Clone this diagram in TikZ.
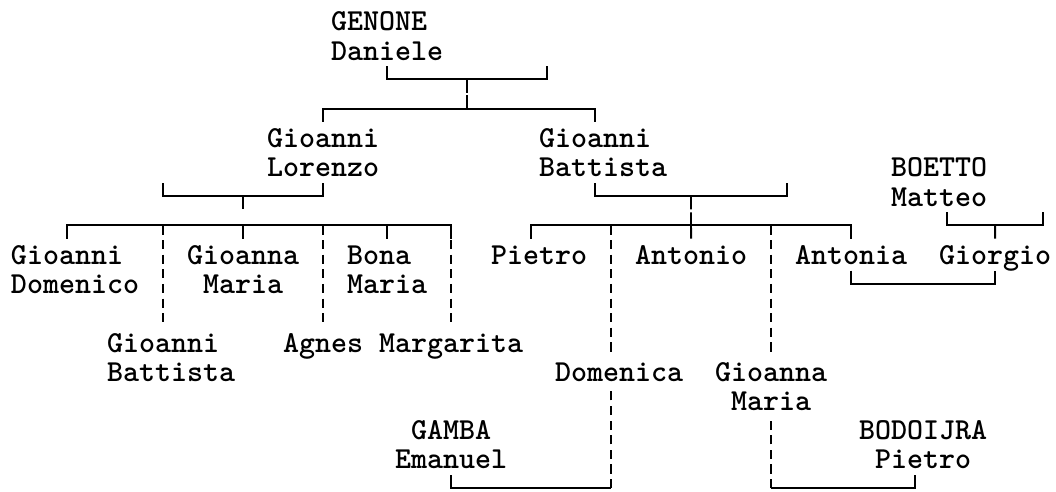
\documentclass[tikz,border=0pt]{standalone}
\newcommand{\rs}{\rule{0pt}{16pt}}
\newcommand{\ind}{\phantom{x}}
\begin{document}
\begin{tikzpicture}[
  x=0.4cm, y=-0.73cm,
  line width=1.4pt,
  nm/.style={anchor=north west, inner sep=0pt, outer sep=0pt, align=left, yshift=9pt,
    font=\fontsize{21.68}{20.77}\selectfont\ttfamily\bfseries},
  broken/.style={dash pattern=on 6.5pt off 3.9pt}
]
\useasboundingbox (-0.6875,-0.719) rectangle (65.3125,16.13);

% ---- people: x = column, y = row ----
\node[nm] (daniele)   at (20,0)  {\rs GENONE\\Daniele};
\node[nm] (lorenzo)   at (16,4)  {\rs Gioanni\\Lorenzo};
\node[nm] (gbatt)     at (33,4)  {\rs Gioanni\\Battista};
\node[nm] (boetto)    at (55,5)  {\rs BOETTO\\Matteo};
\node[nm] (gdom)      at (0,8)   {\rs Gioanni\\Domenico};
\node[nm] (gmaria)    at (11,8)  {\rs Gioanna\\\ind Maria};
\node[nm] (bona)      at (21,8)  {\rs Bona\\Maria};
\node[nm] (pietro)    at (30,8)  {\rs Pietro};
\node[nm] (antonio)   at (39,8)  {\rs Antonio};
\node[nm] (antonia)   at (49,8)  {\rs Antonia};
\node[nm] (giorgio)   at (58,8)  {\rs Giorgio};
\node[nm] (gbatt2)    at (6,11)  {\rs Gioanni\\Battista};
\node[nm] (agnes)     at (17,11) {\rs Agnes};
\node[nm] (margarita) at (23,11) {\rs Margarita};
\node[nm] (domenica)  at (34,12) {\rs Domenica};
\node[nm] (gmaria2)   at (44,12) {\rs Gioanna\\\ind Maria};
\node[nm] (gamba)     at (24,14) {\rs\ind GAMBA\\Emanuel};
\node[nm] (bodoijra)  at (53,14) {\rs BODOIJRA\\\ind Pietro};

% ---- GENONE Daniele ----
\draw (daniele.south |- 0,1.55) |- (28.5,2) -| (33.5,1.55);
\draw (28.5,2) -- (28.5,2.45) (28.5,2.55) -- (28.5,3);
\draw (lorenzo.north |- 0,3.45) |- (28.5,3) -| (36.5,3.45);

% ---- Gioanni Lorenzo ----
\draw (9.5,5.55) |- (14.5,6) -| (lorenzo.south |- 0,5.55);
\draw (14.5,6) -- (14.5,6.45);
\draw ([xshift=-2mm]gdom.north |- 0,7.45) |- (14.5,7) -| (margarita.north |- 0,7.45);
\foreach \n in {gmaria, bona}
  \draw (\n.north |- 0,7) -- (\n.north |- 0,7.45);
\draw[broken] (9.5,7) -- (9.5,10.45);
\draw[broken] (agnes.north |- 0,7) -- (agnes.north |- 0,10.45);
\draw[broken] (margarita.north |- 0,7) -- (margarita.north |- 0,10.45);

% ---- Gioanni Battista ----
\draw (36.5,5.55) |- (42.5,6) -| (48.5,5.55);
\draw (42.5,6) -- (42.5,6.45) (42.5,6.55) -- (antonio.north |- 0,7.45);
\draw ([xshift=-2mm]pietro.north |- 0,7.45) |- (42.5,7) -| (antonia.north |- 0,7.45);
\draw[broken] (37.5,7) -- (37.5,11.4);
\draw[broken] (gmaria2.north |- 0,7) -- (gmaria2.north |- 0,11.4);

% ---- BOETTO Matteo, Antonia + Giorgio ----
\draw (58.5,6.55) |- (61.5,7) -| (64.5,6.55);
\draw (61.5,7) -- (giorgio.north |- 0,7.45);
\draw (antonia.south |- 0,8.55) |- (giorgio.south |- 0,9) -- (giorgio.south |- 0,8.55);

% ---- marriages at the bottom ----
\draw (gamba.south |- 0,15.55) |- (37.5,16);
\draw[broken] (37.5,16) -- (37.5,12.6);
\draw (47.5,16) -| ([xshift=-2mm]bodoijra.south |- 0,15.55);
\draw[broken] (47.5,16) -- (47.5,13.6);
\end{tikzpicture}
\end{document}
